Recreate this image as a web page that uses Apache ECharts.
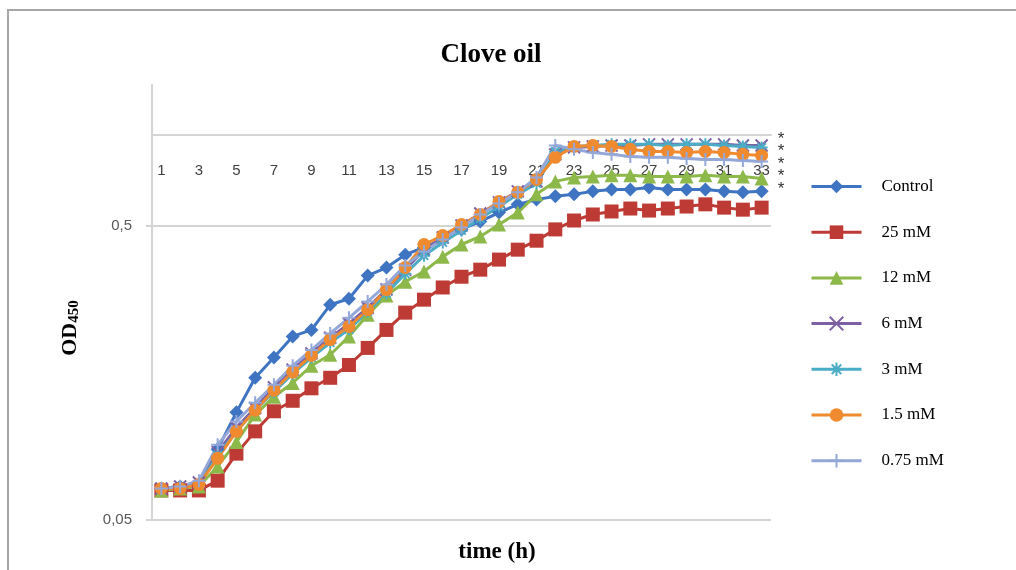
<!DOCTYPE html>
<html>
<head>
<meta charset="utf-8">
<script src="https://cdn.jsdelivr.net/npm/echarts@6/dist/echarts.min.js"></script>
<style>
  html, body { margin: 0; padding: 0; background: #ffffff; }
  #chart { width: 1016px; height: 570px; }
</style>
</head>
<body>
<div id="chart"></div>
<script>
  // time points (h)
  var hours = ['1','2','3','4','5','6','7','8','9','10','11','12','13','14','15','16','17',
    '18','19','20','21','22','23','24','25','26','27','28','29','30','31','32','33'];
  var yTicks = [0.05, 0.5];

  var control = [0.064,0.065,0.066,0.087,0.116,0.152,0.178,0.210,0.221,0.269,0.282,0.338,0.360,0.398,0.421,0.448,0.485,
    0.516,0.553,0.590,0.613,0.628,0.638,0.653,0.663,0.663,0.673,0.663,0.663,0.663,0.653,0.648,0.653];
  var mM25 = [0.063,0.063,0.063,0.068,0.084,0.100,0.117,0.127,0.140,0.152,0.168,0.192,0.221,0.253,0.280,0.308,0.335,
    0.354,0.383,0.414,0.444,0.485,0.520,0.545,0.558,0.571,0.562,0.571,0.580,0.590,0.575,0.566,0.575];
  var mM12 = [0.063,0.064,0.065,0.076,0.092,0.114,0.131,0.146,0.167,0.182,0.210,0.249,0.289,0.322,0.349,0.392,0.431,
    0.459,0.504,0.553,0.638,0.706,0.728,0.734,0.740,0.740,0.734,0.734,0.734,0.740,0.734,0.734,0.722];
  var mM6 = [0.064,0.065,0.067,0.085,0.103,0.120,0.141,0.162,0.184,0.208,0.232,0.263,0.303,0.354,0.414,0.455,0.500,
    0.549,0.599,0.653,0.706,0.872,0.921,0.928,0.935,0.935,0.943,0.943,0.943,0.943,0.943,0.935,0.935];
  var mM3 = [0.064,0.064,0.066,0.083,0.100,0.118,0.136,0.157,0.178,0.200,0.222,0.255,0.294,0.343,0.395,0.438,0.481,
    0.528,0.580,0.638,0.695,0.892,0.928,0.935,0.943,0.943,0.943,0.935,0.943,0.943,0.935,0.928,0.921];
  var mM1_5 = [0.064,0.064,0.066,0.081,0.100,0.118,0.138,0.159,0.181,0.205,0.227,0.259,0.303,0.360,0.431,0.462,0.504,
    0.545,0.603,0.648,0.717,0.852,0.928,0.935,0.928,0.907,0.892,0.892,0.885,0.892,0.885,0.872,0.865];
  var mM0_75 = [0.064,0.065,0.068,0.090,0.108,0.125,0.144,0.167,0.189,0.215,0.243,0.276,0.315,0.366,0.408,0.448,0.492,
    0.545,0.594,0.648,0.728,0.935,0.907,0.885,0.872,0.858,0.852,0.852,0.845,0.838,0.838,0.832,0.825];

  var chart = echarts.init(document.getElementById('chart'));

  function makeSeries(name, data, color, symbol, size, stroked) {
    return {
      name: name,
      type: 'line',
      data: data,
      symbol: symbol,
      symbolSize: size,
      showSymbol: true,
      showAllSymbol: true,
      lineStyle: { color: color, width: 3 },
      itemStyle: stroked
        ? { color: color, borderColor: color, borderWidth: 2 }
        : { color: color, borderWidth: 0 },
      emphasis: { disabled: true },
      animation: false
    };
  }

  var xPath = 'path://M0,0L10,10M10,0L0,10';
  var starPath = 'path://M5,0L5,10M0,5L10,5M1.5,1.5L8.5,8.5M8.5,1.5L1.5,8.5';
  var plusPath = 'path://M5,0L5,10M0,5L10,5';

  var options = {
    animation: false,
    title: {
      text: 'Clove oil',
      left: 486,
      top: 37,
      textAlign: 'center',
      textStyle: { fontFamily: 'Liberation Serif', fontWeight: 'bold', fontSize: 27, color: '#000000' }
    },
    legend: {
      orient: 'vertical',
      left: 805,
      top: 173,
      itemWidth: 50,
      itemHeight: 17,
      itemGap: 28.7,
      lineStyle: { width: 3 },
      textStyle: { fontFamily: 'Liberation Serif', fontSize: 17, color: '#000000', lineHeight: 17, padding: [0, 0, 0, 15] },
      data: ['Control', '25 mM', '12 mM', '6 mM', '3 mM', '1.5 mM', '0.75 mM']
    },
    grid: {
      left: 152,
      right: 245,
      top: 85,
      bottom: 50
    },
    xAxis: {
      type: 'category',
      data: hours,
      position: 'top',
      offset: -50,
      boundaryGap: true,
      axisLine: { show: true, lineStyle: { color: '#d4d4d4', width: 2 } },
      axisTick: { show: false },
      axisLabel: {
        inside: true,
        interval: 1,
        margin: 28,
        fontFamily: 'Liberation Sans',
        fontSize: 15,
        color: '#404040'
      },
      splitLine: { show: false }
    },
    yAxis: {
      type: 'log',
      logBase: 10,
      min: 0.05,
      max: 1.5,
      axisLine: { show: true, lineStyle: { color: '#d4d4d4', width: 2 } },
      axisTick: { show: true, length: 6, customValues: yTicks, lineStyle: { color: '#d4d4d4', width: 2 } },
      axisLabel: {
        customValues: yTicks,
        margin: 20,
        fontFamily: 'Liberation Sans',
        fontSize: 15,
        color: '#595959',
        formatter: function (v) { return String(+v.toPrecision(3)).replace('.', ','); }
      },
      splitLine: { show: true, lineStyle: { color: '#d4d4d4', width: 2 } },
      minorSplitLine: { show: false }
    },
    graphic: [
      {
        type: 'rect',
        shape: { x: 8, y: 10, width: 1200, height: 800 },
        style: { fill: 'none', stroke: '#a6a6a6', lineWidth: 2 },
        silent: true
      },
      {
        type: 'text',
        x: 70,
        y: 328,
        rotation: Math.PI / 2,
        style: {
          text: 'OD{s|450}',
          textAlign: 'center',
          textVerticalAlign: 'middle',
          fontFamily: 'Liberation Serif',
          fontWeight: 'bold',
          fontSize: 22,
          fill: '#000000',
          rich: { s: { fontFamily: 'Liberation Serif', fontWeight: 'bold', fontSize: 15, padding: [9, 0, 0, 0] } }
        }
      },
      {
        type: 'text',
        x: 497,
        y: 552,
        style: { text: 'time (h)', textAlign: 'center', textVerticalAlign: 'middle', font: 'bold 23px "Liberation Serif"', fill: '#000000' }
      },
      {
        type: 'text',
        x: 781,
        y: 133,
        style: { text: '*\n*\n*\n*\n*', textAlign: 'center', font: '17px "Liberation Sans"', lineHeight: 12.5, fill: '#333333' }
      }
    ],
    series: [
      makeSeries('Control', control, '#3F74C2', 'diamond', 14, false),
      makeSeries('25 mM', mM25, '#BE3A34', 'rect', 14, false),
      makeSeries('12 mM', mM12, '#8DB84A', 'triangle', 14, false),
      makeSeries('6 mM', mM6, '#7D5FA3', xPath, 12, true),
      makeSeries('3 mM', mM3, '#4BACC6', starPath, 12, true),
      makeSeries('1.5 mM', mM1_5, '#F08A2E', 'circle', 13, false),
      makeSeries('0.75 mM', mM0_75, '#93A7D8', plusPath, 13, true)
    ]
  };

  chart.setOption(options);
</script>
</body>
</html>
